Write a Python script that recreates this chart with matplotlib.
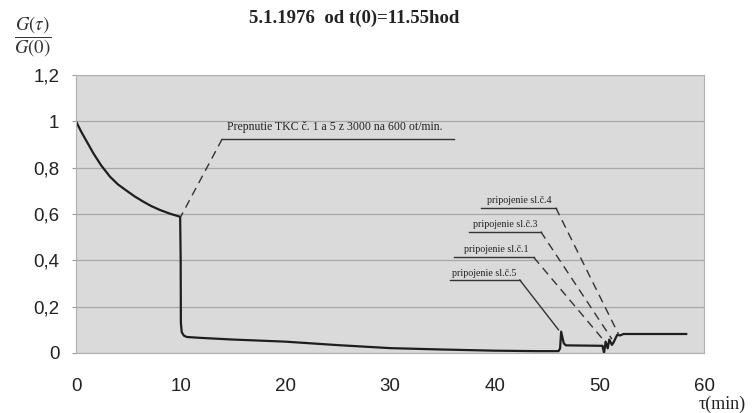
import matplotlib
matplotlib.use('Agg')
import matplotlib.pyplot as plt

# curve G(tau)/G(0)
tau = [0, 0.5, 1.0, 1.66, 2.4, 3.25, 4.0, 4.85, 5.6, 6.44, 7.2, 8.04, 9.0, 9.95,
       10.0, 10.02, 10.1, 10.3, 10.6, 12, 15, 20, 25, 30, 35, 40, 44, 46.1,
       46.25, 46.35, 46.6, 46.8, 50.3, 50.45, 50.6, 50.8, 50.95, 51.2, 51.35,
       51.7, 52.0, 52.3, 58.3]
g = [1.0, 0.955, 0.915, 0.862, 0.81, 0.761, 0.728, 0.700, 0.676, 0.653, 0.634,
     0.617, 0.601, 0.588, 0.40, 0.13, 0.09, 0.075, 0.069, 0.065, 0.058, 0.049,
     0.034, 0.021, 0.015, 0.010, 0.008, 0.008, 0.02, 0.092, 0.042, 0.033,
     0.031, 0.0, 0.049, 0.02, 0.058, 0.035, 0.045, 0.078, 0.076, 0.082, 0.082]

xticks = [0, 10, 20, 30, 40, 50, 60]
yticks = [0, 0.2, 0.4, 0.6, 0.8, 1.0, 1.2]
ytick_labels = ['0', '0,2', '0,4', '0,6', '0,8', '1', '1,2']

# annotation labels: text, text x, text y, underline x0, x1, y, connector end, dashed
notes = ['Prepnutie TKC č. 1 a 5 z 3000 na 600 ot/min.',
         'pripojenie sl.č.4', 'pripojenie sl.č.3',
         'pripojenie sl.č.1', 'pripojenie sl.č.5']
note_x = [14.45, 39.3, 37.9, 37.1, 35.9]
note_y = [0.950, 0.640, 0.537, 0.426, 0.324]
line_x0 = [13.97, 38.66, 37.51, 36.08, 35.7]
line_x1 = [36.08, 45.84, 44.4, 43.73, 42.4]
line_y = [0.924, 0.627, 0.524, 0.413, 0.315]
end_x = [10.0, 51.9, 51.2, 50.6, 46.1]
end_y = [0.588, 0.075, 0.06, 0.045, 0.10]
dashed = [True, True, True, True, False]
note_size = [8.5, 7.2, 7.2, 7.2, 7.2]

fig = plt.figure(figsize=(7.54, 4.13), dpi=100)
ax = fig.add_axes([0.1008, 0.1453, 0.8329, 0.6731])
ax.set_facecolor('#dadada')
for s in ax.spines.values():
    s.set_color('#b0b0b0')
    s.set_linewidth(0.8)

ax.set_xlim(0, 60)
ax.set_ylim(0, 1.2)
ax.set_xticks(xticks)
ax.set_yticks(yticks)
ax.set_yticklabels(ytick_labels)
ax.tick_params(axis='x', length=0, pad=18, labelsize=13.5, colors='#222222')
ax.tick_params(axis='y', length=3, pad=9, labelsize=13.5, colors='#222222',
               color='#999999')
for lab in ax.get_xticklabels() + ax.get_yticklabels():
    lab.set_fontfamily('Liberation Sans')
ax.yaxis.grid(True, color='#a8a8a8', linewidth=0.9)
ax.set_axisbelow(True)

ax.plot(tau, g, color='#1e1e1e', linewidth=1.6, solid_joinstyle='round')

for i in range(len(notes)):
    ax.text(note_x[i], note_y[i], notes[i], fontsize=note_size[i],
            family='Liberation Serif', color='#222222', va='bottom', ha='left')
    ax.plot([line_x0[i], line_x1[i]], [line_y[i], line_y[i]],
            color='#333333', linewidth=1.0)
    ax.plot([line_x1[i] if i > 0 else line_x0[i], end_x[i]],
            [line_y[i], end_y[i]], color='#333333', linewidth=1.0,
            linestyle=(0, (6, 4)) if dashed[i] else '-')

fig.text(0.47, 0.955, '5.1.1976  od t(0)=11.55hod', fontsize=13.5,
         family='Liberation Serif', fontweight='bold', ha='center',
         va='center', color='#222222')
plt.rcParams['mathtext.fontset'] = 'stix'
fig.text(0.044, 0.912, r'$\dfrac{G(\tau)}{G(0)}$', fontsize=13.5,
         ha='center', va='center', color='#333333')
fig.text(0.926, 0.010, 'τ(min)', fontsize=13, family='Liberation Serif',
         ha='left', va='baseline', color='#222222')

fig.savefig('out.png', dpi=100, facecolor='white')
